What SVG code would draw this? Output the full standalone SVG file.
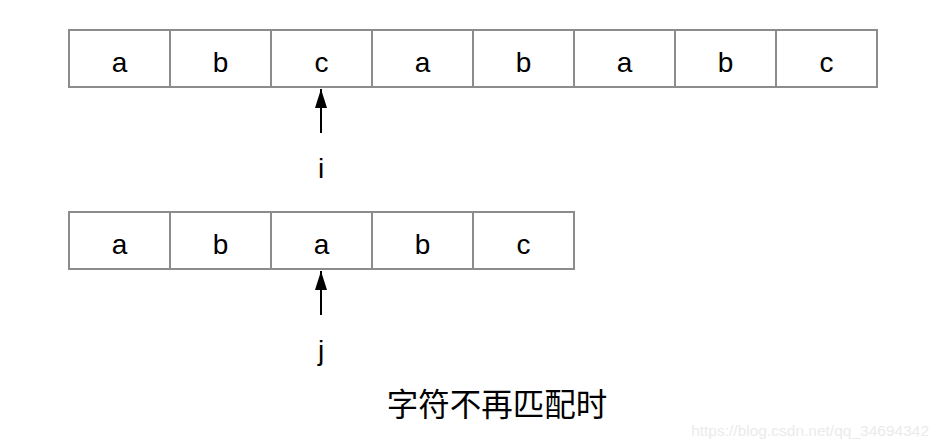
<svg xmlns="http://www.w3.org/2000/svg" width="944" height="446" viewBox="0 0 944 446">
<style>
.cell{fill:#fff;stroke:#8c8c8c;stroke-width:2}
.t{font-family:"Liberation Sans",Arial,sans-serif;font-size:28px;fill:#000;text-anchor:middle}
.arr{stroke:#000;stroke-width:2;fill:none}
</style>
<defs>
<marker id="ah" viewBox="0 0 19 12" refX="19" refY="6" markerWidth="19" markerHeight="12" orient="auto" markerUnits="userSpaceOnUse">
<path d="M0,0 L19,6 L0,12 z" fill="#000"/>
</marker>
</defs>
<rect width="944" height="446" fill="#fff"/>
<g id="top-row">
<rect class="cell" x="69" y="30" width="101" height="57"/>
<rect class="cell" x="170" y="30" width="101" height="57"/>
<rect class="cell" x="271" y="30" width="101" height="57"/>
<rect class="cell" x="372" y="30" width="101" height="57"/>
<rect class="cell" x="473" y="30" width="101" height="57"/>
<rect class="cell" x="574" y="30" width="101" height="57"/>
<rect class="cell" x="675" y="30" width="101" height="57"/>
<rect class="cell" x="776" y="30" width="101" height="57"/>
<text class="t" x="119.5" y="72">a</text>
<text class="t" x="220.5" y="72">b</text>
<text class="t" x="321.5" y="72">c</text>
<text class="t" x="422.5" y="72">a</text>
<text class="t" x="523.5" y="72">b</text>
<text class="t" x="624.5" y="72">a</text>
<text class="t" x="725.5" y="72">b</text>
<text class="t" x="826.5" y="72">c</text>
</g>
<g id="bottom-row">
<rect class="cell" x="69" y="212" width="101" height="57"/>
<rect class="cell" x="170" y="212" width="101" height="57"/>
<rect class="cell" x="271" y="212" width="101" height="57"/>
<rect class="cell" x="372" y="212" width="101" height="57"/>
<rect class="cell" x="473" y="212" width="101" height="57"/>
<text class="t" x="119.5" y="254">a</text>
<text class="t" x="220.5" y="254">b</text>
<text class="t" x="321.5" y="254">a</text>
<text class="t" x="422.5" y="254">b</text>
<text class="t" x="523.5" y="254">c</text>
</g>
<g id="connectors">
<line class="arr" x1="321" y1="133" x2="321" y2="89" marker-end="url(#ah)"/>
<line class="arr" x1="321" y1="315" x2="321" y2="271" marker-end="url(#ah)"/>
</g>
<g id="label-i"><text class="t" x="321" y="178">i</text></g>
<g id="label-j"><text class="t" x="321" y="360">j</text></g>
<g id="caption"><text x="497" y="416" font-family="'Noto Sans CJK SC',sans-serif" font-size="31.5" text-anchor="middle" fill="#000">字符不再匹配时</text></g>
<g id="watermark"><text x="929" y="436" font-family="'Liberation Sans',Arial,sans-serif" font-size="15.5" text-anchor="end" fill="#ebebeb">https://blog.csdn.net/qq_34694342</text></g>
</svg>
